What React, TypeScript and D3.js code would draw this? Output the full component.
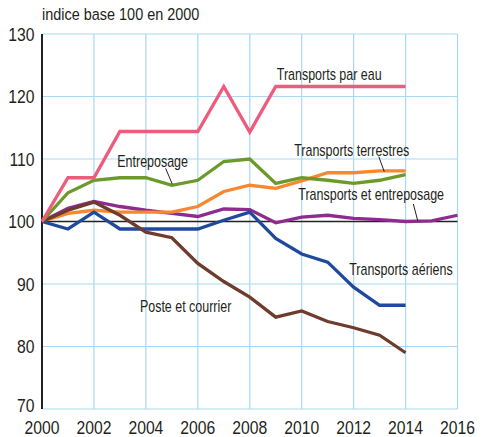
import { useEffect, useRef } from 'react'
import * as d3 from 'd3'

const W = 482
const H = 437

const years = d3.range(2000, 2017)
const xTicks = [2000, 2002, 2004, 2006, 2008, 2010, 2012, 2014, 2016]
const yTicks = [70, 80, 90, 100, 110, 120, 130]

// valeurs (indice base 100 en 2000)
const parEau = [100, 107, 107, 114.4, 114.4, 114.4, 114.4, 121.6, 114.3, 121.6, 121.6, 121.6, 121.6, 121.6, 121.6]
const entreposage = [100, 104.6, 106.6, 107, 107, 105.8, 106.6, 109.6, 110, 106.1, 107, 106.6, 106.1, 106.6, 107.5]
const terrestres = [100, 101.3, 101.8, 101.5, 101.5, 101.5, 102.4, 104.8, 105.8, 105.3, 106.5, 107.8, 107.8, 108.1, 108.1]
const transEntrep = [100, 102.1, 103.2, 102.4, 101.8, 101.3, 100.8, 102, 101.9, 99.8, 100.7, 101, 100.5, 100.3, 100, 100.1, 101]
const aeriens = [100, 98.8, 101.5, 98.8, 98.8, 98.8, 98.8, 100.2, 101.5, 97.3, 94.8, 93.5, 89.5, 86.6, 86.6]
const poste = [100, 101.8, 103.1, 101, 98.3, 97.4, 93.3, 90.4, 87.9, 84.7, 85.7, 84, 83, 81.8, 79]

const series = [
  { name: 'Transports et entreposage', values: transEntrep, color: '#8e2b8f' },
  { name: 'Transports terrestres', values: terrestres, color: '#f7882f' },
  { name: 'Transports aériens', values: aeriens, color: '#1f4a9c' },
  { name: 'Poste et courrier', values: poste, color: '#6e3b2c' },
  { name: 'Entreposage', values: entreposage, color: '#6b9a2b' },
  { name: 'Transports par eau', values: parEau, color: '#ef5b7b' }
]

// étiquettes : début du texte (année, valeur de la ligne de base) et trait de rappel
const labels = [
  { text: 'Transports par eau', x: 2009.04, y: 122.64, lead: null },
  { text: 'Entreposage', x: 2002.9, y: 108.77, lead: [[2004.76, 108.5], [2005.02, 105.95]] },
  { text: 'Transports terrestres', x: 2009.71, y: 110.48, lead: [[2012.97, 110.37], [2013.18, 107.97]] },
  { text: 'Transports et entreposage', x: 2009.87, y: 103.44, lead: [[2014.3, 102.8], [2014.47, 100.1]] },
  { text: 'Transports aériens', x: 2011.83, y: 91.44, lead: null },
  { text: 'Poste et courrier', x: 2003.77, y: 85.57, lead: null }
]

const FONT = 'Arial, "Liberation Sans", Helvetica, sans-serif'
const INK = '#231f20'

// texte étroit : la police condensée n'existe pas, on comprime horizontalement
function narrowText(
  parent: d3.Selection<any, unknown, null, undefined>,
  tx: number,
  ty: number,
  text: string,
  size: number,
  sx: number,
  anchor = 'start'
) {
  parent.append('text')
    .attr('transform', `translate(${tx},${ty}) scale(${sx},1)`)
    .attr('text-anchor', anchor)
    .style('font-family', FONT)
    .style('font-size', `${size}px`)
    .style('fill', INK)
    .text(text)
}

export default function App() {
  const svgRef = useRef<SVGSVGElement>(null)

  useEffect(() => {
    if (!svgRef.current) return
    const svg = d3.select(svgRef.current)
    svg.selectAll('*').remove()

    const x = d3.scaleLinear().domain([2000, 2016]).range([42, 457.5])
    const y = d3.scaleLinear().domain([70, 130]).range([409, 34])

    // grille
    const grid = svg.append('g')
    grid.selectAll('.vg')
      .data(xTicks.slice(1))
      .enter()
      .append('line')
      .attr('x1', d => x(d))
      .attr('x2', d => x(d))
      .attr('y1', y(130))
      .attr('y2', y(70))
      .attr('stroke', '#aad8f2')
      .attr('stroke-width', 1.2)
    grid.selectAll('.hg')
      .data(yTicks)
      .enter()
      .append('line')
      .attr('x1', x(2000))
      .attr('x2', x(2016))
      .attr('y1', d => y(d))
      .attr('y2', d => y(d))
      .attr('stroke', '#aad8f2')
      .attr('stroke-width', 1.2)

    // ligne de base 100
    svg.append('line')
      .attr('x1', x(2000))
      .attr('x2', x(2016))
      .attr('y1', y(100))
      .attr('y2', y(100))
      .attr('stroke', '#222')
      .attr('stroke-width', 1.3)

    // axe vertical
    svg.append('line')
      .attr('x1', x(2000))
      .attr('x2', x(2000))
      .attr('y1', y(130))
      .attr('y2', y(70))
      .attr('stroke', '#222')
      .attr('stroke-width', 2)

    // courbes
    const line = d3.line<number>()
      .x((_, i) => x(years[i]))
      .y(d => y(d))
    svg.selectAll('.serie')
      .data(series)
      .enter()
      .append('path')
      .attr('d', d => line(d.values))
      .attr('fill', 'none')
      .attr('stroke', d => d.color)
      .attr('stroke-width', 3.3)
      .attr('stroke-linejoin', 'miter')

    // libellés des axes (le 70 est un peu remonté, comme dans l'original)
    yTicks.forEach(t => narrowText(svg, 34.5, y(t) + (t === 70 ? 3 : 6.5), String(t), 18.5, 0.85, 'end'))
    xTicks.forEach(t => narrowText(svg, x(t), 434, String(t), 18.5, 0.85, 'middle'))

    narrowText(svg, 42, 19.5, 'indice base 100 en 2000', 17, 0.85)

    // étiquettes des séries
    labels.forEach(l => {
      narrowText(svg, x(l.x), y(l.y), l.text, 16, 0.78)
      if (l.lead) {
        svg.append('line')
          .attr('x1', x(l.lead[0][0]))
          .attr('y1', y(l.lead[0][1]))
          .attr('x2', x(l.lead[1][0]))
          .attr('y2', y(l.lead[1][1]))
          .attr('stroke', INK)
          .attr('stroke-width', 1)
      }
    })
  }, [])

  return (
    <svg
      ref={svgRef}
      width={W}
      height={H}
      style={{ position: 'absolute', left: 0, top: 0, background: '#fff' }}
    />
  )
}
